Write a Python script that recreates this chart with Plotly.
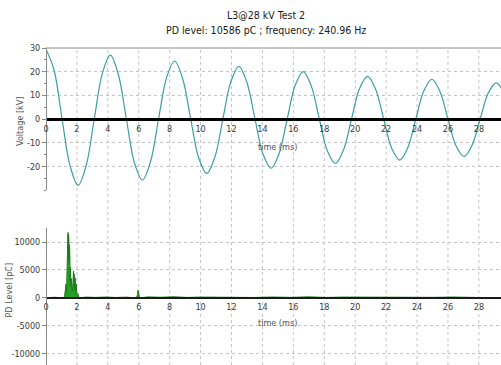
import plotly.graph_objects as go

FONT = "Liberation Sans Narrow, DejaVu Sans Condensed, Liberation Sans, Arial, sans-serif"

title_line1 = "L3@28 kV Test 2"
title_line2 = "PD level: 10586 pC ; frequency: 240.96 Hz"

# Voltage waveform, read every eighth of a period (time in ms, voltage in kV)
volt_t = [0.0, 0.52, 1.04, 1.56, 2.08, 2.6, 3.12, 3.64, 4.16, 4.68, 5.2,
          5.72, 6.24, 6.76, 7.28, 7.8, 8.32, 8.84, 9.36, 9.88, 10.4, 10.92,
          11.44, 11.96, 12.48, 13.0, 13.52, 14.04, 14.56, 15.08, 15.6, 16.12,
          16.64, 17.16, 17.68, 18.2, 18.72, 19.24, 19.76, 20.28, 20.8, 21.32,
          21.84, 22.36, 22.88, 23.4, 23.92, 24.44, 24.96, 25.48, 26.0, 26.52,
          27.04, 27.56, 28.08, 28.6, 29.12, 29.64, 30.16]
volt_kv = [29.5, 20.7, 0, -19.9, -28, -19.6, 0, 19.2, 27, 18.8, 0,
           -18.5, -25.8, -18.0, 0, 17.5, 24.5, 17.0, 0, -16.5, -23, -16.1,
           0, 15.8, 22.2, 15.3, 0, -14.9, -20.8, -14.5, 0, 14.3,
           20, 13.9, 0, -13.5, -18.8, -13.1, 0, 12.9, 18, 12.6,
           0, -12.4, -17.4, -12.1, 0, 11.9, 16.8, 11.6, 0, -11.3,
           -15.8, -11.0, 0, 10.9, 15.3, 10.7, 0]

# Partial-discharge level (time in ms, level in pC)
pd_t = [0.0, 0.5, 0.9, 1.10, 1.20, 1.25, 1.30, 1.33, 1.36, 1.38, 1.40, 1.42,
        1.44, 1.46, 1.48, 1.50, 1.52, 1.54, 1.56, 1.58, 1.60, 1.63, 1.66,
        1.70, 1.74, 1.78, 1.80, 1.82, 1.85, 1.88, 1.92, 1.96, 2.00, 2.05,
        2.15, 2.6, 3.2, 3.9, 4.5, 5.2, 5.85, 5.92, 5.96, 6.00, 6.05, 6.6,
        7.4, 8.3, 9.1, 10.0, 11.2, 12.4, 13.5, 14.6, 15.8, 17.0, 18.1, 19.3,
        20.5, 21.6, 22.8, 24.0, 25.1, 26.3, 27.4, 28.6, 29.5]
pd_pc = [0, 120, 60, 0, 300, 1200, 2500, 1000, 4000, 6500, 9000, 11700,
         7000, 11300, 10500, 6000, 9500, 8000, 3000, 5500, 2000, 3500, 1500,
         1200, 2500, 4800, 3000, 4300, 1500, 3600, 1000, 2500, 500, 800,
         0, 150, 90, 160, 80, 140, 0, 600, 1400, 300, 0, 180,
         120, 200, 90, 150, 110, 170, 80, 160, 100, 190, 90, 150,
         120, 170, 80, 140, 100, 160, 90, 130, 0]

x_ticks = [0, 2, 4, 6, 8, 10, 12, 14, 16, 18, 20, 22, 24, 26, 28]
v_ticks = [30, 20, 10, 0, -10, -20]
v_labels = ["30", "20", "10", "0", "-10", "-20"]
pd_ticks = [10000, 5000, 0, -5000, -10000]
pd_labels = ["10000", "5000", "0", "-5000", "-10000"]

GRID = "#c4c4c4"
AXIS = "#8a8a8a"
TXT = "#3a3a3a"

fig = go.Figure()

fig.add_trace(go.Scatter(
    x=volt_t, y=volt_kv, mode="lines",
    line=dict(color="#3a9f9f", width=1.2, shape="spline", smoothing=1.0),
    xaxis="x", yaxis="y", hoverinfo="skip", showlegend=False))

fig.add_trace(go.Scatter(
    x=pd_t, y=pd_pc, mode="lines", fill="tozeroy",
    fillcolor="#22a022", line=dict(color="#1d7a1d", width=1),
    xaxis="x2", yaxis="y2", hoverinfo="skip", showlegend=False))

tickfont = dict(family=FONT, size=9, color=TXT)

fig.update_layout(
    width=501, height=365,
    margin=dict(l=46, r=0, t=48, b=0),
    paper_bgcolor="white", plot_bgcolor="white",
    font=dict(family=FONT, color=TXT),
    xaxis=dict(domain=[0, 1], range=[0, 29.43], anchor="free", position=0.776,
               showline=True, linecolor="black", linewidth=3,
               tickvals=x_ticks, ticks="", showgrid=False, zeroline=False,
               tickfont=tickfont),
    yaxis=dict(domain=[0.552, 1], range=[-30, 30], anchor="free", position=0,
               showline=True, linecolor=AXIS, linewidth=1,
               tickvals=v_ticks, ticktext=v_labels,
               ticks="outside", ticklen=4, tickcolor=AXIS,
               minor=dict(dtick=5, ticks="outside", ticklen=2, tickcolor=AXIS),
               showgrid=True, gridcolor=GRID, griddash="3px,3px",
               zeroline=False, tickfont=tickfont),
    xaxis2=dict(domain=[0, 1], range=[0, 29.43], anchor="free", position=0.211,
                matches="x",
                showline=True, linecolor="#1a1a1a", linewidth=1.5,
                tickvals=x_ticks, ticks="", showgrid=False, zeroline=False,
                tickfont=tickfont),
    yaxis2=dict(domain=[0, 0.432], range=[-12000, 12500], anchor="free", position=0,
                showline=True, linecolor=AXIS, linewidth=1,
                tickvals=pd_ticks, ticktext=pd_labels,
                ticks="outside", ticklen=4, tickcolor=AXIS,
                showgrid=True, gridcolor=GRID, griddash="3px,3px",
                zeroline=False, tickfont=tickfont),
)

# vertical dashed grid running through both panels
shapes = []
for v in x_ticks[1:]:
    shapes.append(dict(type="line", xref="x", yref="paper", x0=v, x1=v, y0=0, y1=1,
                       line=dict(color=GRID, width=1, dash="3px,3px"), layer="below"))
# top frame line of the voltage panel
shapes.append(dict(type="line", xref="paper", yref="paper", x0=0, x1=1, y0=1, y1=1,
                   line=dict(color=AXIS, width=1)))
fig.update_layout(shapes=shapes)

ann_font = dict(family=FONT, size=10.5, color="#1a1a1a")
axis_title_font = dict(family=FONT, size=9, color="#555555")
fig.update_layout(annotations=[
    dict(text=title_line1, xref="paper", yref="paper", x=0.483, y=1.104,
         xanchor="center", yanchor="middle", showarrow=False, font=ann_font),
    dict(text=title_line2, xref="paper", yref="paper", x=0.483, y=1.057,
         xanchor="center", yanchor="middle", showarrow=False, font=ann_font),
    dict(text="time (ms)", xref="paper", yref="paper", x=0.508, y=0.688,
         xanchor="center", yanchor="middle", showarrow=False, font=axis_title_font),
    dict(text="time (ms)", xref="paper", yref="paper", x=0.508, y=0.1325,
         xanchor="center", yanchor="middle", showarrow=False, font=axis_title_font),
    dict(text="Voltage [kV]", xref="paper", yref="paper", x=-0.057, y=0.767,
         textangle=-90, xanchor="center", yanchor="middle", showarrow=False,
         font=axis_title_font),
    dict(text="PD Level [pC]", xref="paper", yref="paper", x=-0.082, y=0.237,
         textangle=-90, xanchor="center", yanchor="middle", showarrow=False,
         font=axis_title_font),
])

fig.write_html("out.html")
